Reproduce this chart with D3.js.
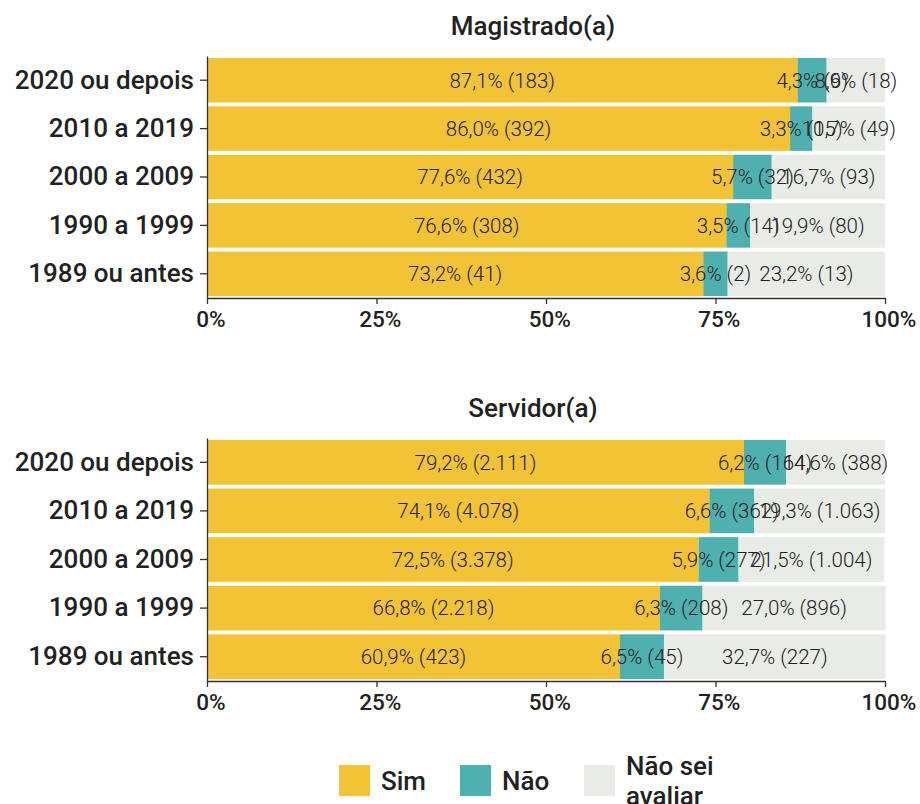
<!DOCTYPE html>
<html>
<head>
<meta charset="utf-8">
<script src="https://cdn.jsdelivr.net/npm/d3@7"></script>
<style>
  body { margin: 0; background: #fff; }
  text { font-family: Roboto, "Noto Sans", sans-serif; fill: #222; }
  .axis path, .axis line { stroke: #333; stroke-width: 1.3; }
</style>
</head>
<body>
<div id="chart"></div>
<script>
// data
var categories = ["2020 ou depois", "2010 a 2019", "2000 a 2009", "1990 a 1999", "1989 ou antes"];
var answers = ["Sim", "Não", "Não sei avaliar"];
var panels = ["Magistrado(a)", "Servidor(a)"];

var magPct = {
    "Sim": [87.1, 86.0, 77.6, 76.6, 73.2],
    "Não": [4.3, 3.3, 5.7, 3.5, 3.6],
    "Não sei avaliar": [8.6, 10.7, 16.7, 19.9, 23.2]
};
var magN = {
    "Sim": ["183", "392", "432", "308", "41"],
    "Não": ["9", "15", "32", "14", "2"],
    "Não sei avaliar": ["18", "49", "93", "80", "13"]
};
var servPct = {
    "Sim": [79.2, 74.1, 72.5, 66.8, 60.9],
    "Não": [6.2, 6.6, 5.9, 6.3, 6.5],
    "Não sei avaliar": [14.6, 19.3, 21.5, 27.0, 32.7]
};
var servN = {
    "Sim": ["2.111", "4.078", "3.378", "2.218", "423"],
    "Não": ["164", "362", "277", "208", "45"],
    "Não sei avaliar": ["388", "1.063", "1.004", "896", "227"]
};
var xTicks = [0, 25, 50, 75, 100];

var colors = d3.scaleOrdinal()
    .domain(answers)
    .range(["#F2C335", "#4FB0B0", "#E9EBE7"]);

var svgWidth = 920;
var svgHeight = 804;

var svg = d3.select("#chart")
    .append("svg")
    .attr("width", svgWidth)
    .attr("height", svgHeight);

var x = d3.scaleLinear().domain([0, 100]).range([207, 885]);

function drawPanel(title, pct, counts, top, bottom) {
    var y = d3.scaleBand()
        .domain(categories)
        .range([top, bottom])
        .paddingInner(0.08)
        .paddingOuter(0.04);

    var g = svg.append("g");

    g.append("text")
        .attr("x", 533)
        .attr("y", top - 21)
        .attr("text-anchor", "middle")
        .attr("font-size", "26px")
        .attr("font-weight", 500)
        .text(title);

    // stack rows
    var rows = categories.map(function(c, i) {
        var row = { cat: c };
        answers.forEach(function(a) { row[a] = pct[a][i]; });
        return row;
    });
    var series = d3.stack().keys(answers)(rows);

    series.forEach(function(s) {
        g.selectAll(null)
            .data(s)
            .enter()
            .append("rect")
            .attr("x", d => x(d[0]))
            .attr("y", d => y(d.data.cat))
            .attr("width", d => x(d[1]) - x(d[0]))
            .attr("height", y.bandwidth())
            .attr("fill", colors(s.key));
    });

    series.forEach(function(s) {
        g.selectAll(null)
            .data(s)
            .enter()
            .append("text")
            .attr("x", d => x((d[0] + d[1]) / 2))
            .attr("y", d => y(d.data.cat) + y.bandwidth() / 2)
            .attr("dy", "0.36em")
            .attr("text-anchor", "middle")
            .attr("font-size", "20.5px")
            .attr("font-weight", 300)
            .text(function(d, i) {
                return d3.format(".1f")(d.data[s.key]).replace(".", ",") + "% (" + counts[s.key][i] + ")";
            });
    });

    var leftAxis = d3.axisLeft(y).tickSize(7).tickSizeOuter(0).tickPadding(6);
    g.append("g")
        .attr("class", "axis")
        .attr("transform", `translate(${x(0)},0)`)
        .call(leftAxis)
        .call(a => a.selectAll("text")
            .attr("font-size", "26px")
            .attr("font-weight", 500)
            .style("font-family", "Roboto, sans-serif")
            .attr("fill", "#222"));

    var bottomAxis = d3.axisBottom(x)
        .tickValues(xTicks)
        .tickFormat(d => d + "%")
        .tickSize(6)
        .tickSizeOuter(0);
    g.append("g")
        .attr("class", "axis")
        .attr("transform", `translate(0,${bottom})`)
        .call(bottomAxis)
        .call(a => a.selectAll("text")
            .attr("font-size", "22.5px")
            .attr("font-weight", 500)
            .attr("dx", "0.15em")
            .attr("dy", "0.9em")
            .style("font-family", "Roboto, sans-serif")
            .attr("fill", "#222"));
}

drawPanel(panels[0], magPct, magN, 56, 298);
drawPanel(panels[1], servPct, servN, 438, 681);

// legend
var legendX = [339, 460, 584];
var legend = svg.append("g");
answers.forEach(function(a, i) {
    legend.append("rect")
        .attr("x", legendX[i])
        .attr("y", 765)
        .attr("width", 31)
        .attr("height", 31)
        .attr("fill", colors(a));
    var t = legend.append("text")
        .attr("x", legendX[i] + 42)
        .attr("font-size", "26px")
        .attr("font-weight", 500);
    if (a === "Não sei avaliar") {
        t.append("tspan").attr("x", legendX[i] + 42).attr("y", 775).text("Não sei");
        t.append("tspan").attr("x", legendX[i] + 42).attr("y", 805).text("avaliar");
    } else {
        t.attr("y", 781).attr("dy", "0.35em").text(a);
    }
});
</script>
</body>
</html>
